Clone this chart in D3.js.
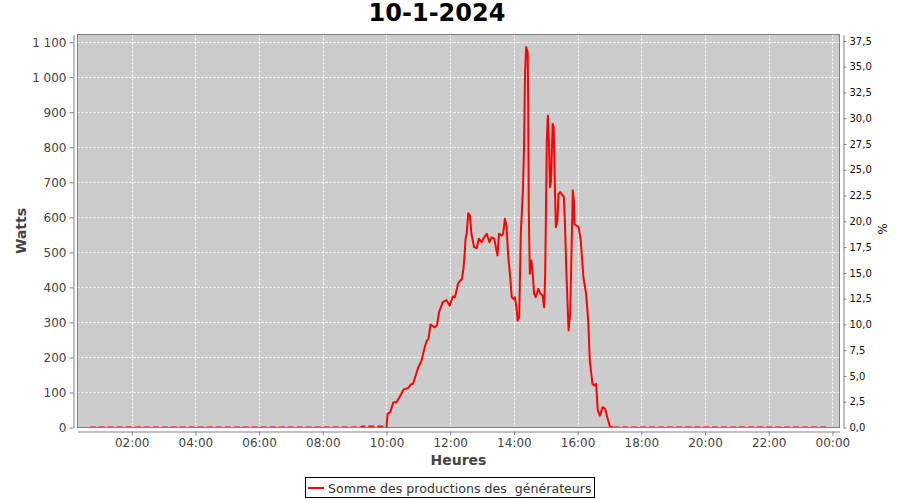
<!DOCTYPE html>
<html><head><meta charset="utf-8">
<script src="https://cdn.jsdelivr.net/npm/d3@7"></script>
<style>body{margin:0;background:#fff}svg{display:block}</style>
</head><body><svg id="c" width="900" height="500"></svg>
<script>
// ---- data ----
const title = "10-1-2024";
const seriesName = "Somme des productions des  générateurs";
const nightTimesAM = ["00:41","09:12","09:14","09:58"];
const nightWattsAM = [0,0,3,3];
const nightTimesPM = ["17:07","23:48"];
const nightWattsPM = [0,0];
const dayTimes = ["10:00","10:02","10:07","10:13","10:19","10:25","10:32","10:41","10:46","10:50","10:54","11:00","11:06","11:12","11:16","11:19","11:23","11:31","11:35","11:39","11:46","11:53","11:59","12:05","12:09","12:15","12:22","12:25","12:27","12:29","12:31","12:34","12:37","12:40","12:45","12:50","12:54","12:59","13:04","13:09","13:14","13:18","13:23","13:29","13:32","13:37","13:40","13:43","13:46","13:49","13:53","13:56","13:59","14:02","14:05","14:07","14:10","14:13","14:17","14:19","14:21","14:23","14:26","14:27","14:28","14:30","14:33","14:36","14:38","14:41","14:46","14:50","14:54","14:57","14:59","15:02","15:04","15:06","15:08","15:10","15:13","15:15","15:17","15:19","15:22","15:24","15:27","15:32","15:34","15:36","15:39","15:43","15:46","15:49","15:51","15:53","15:54","15:57","16:02","16:06","16:11","16:16","16:20","16:23","16:28","16:31","16:35","16:38","16:42","16:47","16:52","16:56","17:01","17:07"];
const dayWatts = [0,39,44,72,72,88,108,113,123,125,144,172,191,229,248,253,294,286,291,329,358,364,348,374,372,412,424,453,490,540,553,612,605,553,515,512,539,529,543,553,529,543,539,491,553,548,555,596,577,496,429,372,367,372,339,305,315,553,677,791,1010,1086,1071,914,620,439,477,429,382,372,396,382,377,343,439,819,891,819,686,705,867,857,705,572,591,667,672,662,660,591,439,277,325,534,677,648,581,577,572,534,429,382,305,191,125,120,125,49,34,58,53,29,2,0];
const xTickLabels = ["02:00","04:00","06:00","08:00","10:00","12:00","14:00","16:00","18:00","20:00","22:00","00:00"];
const xTickMinutes = [120,240,360,480,600,720,840,960,1080,1200,1320,1440];
const yTicks = [0,100,200,300,400,500,600,700,800,900,1000,1100];
const yRightTicks = [0,2.5,5,7.5,10,12.5,15,17.5,20,22.5,25,27.5,30,32.5,35,37.5];

// ---- layout ----
const L=77.5, R=839.5, T=34.5, B=427.5;
const FONT = "DejaVu Sans, sans-serif";
const svg = d3.select("#c");
const toMin = s => { const [h,m]=s.split(":").map(Number); return h*60+m; };

const x = d3.scaleLinear().domain([17.9,1453.4]).range([L,R]);
const y = d3.scaleLinear().domain([0,1122]).range([B,T]);
const yR = d3.scaleLinear().domain([0,38.12]).range([B,T]);

const loc = d3.formatLocale({decimal:",",thousands:" ",grouping:[3],currency:["","€"]});
const fmtW = loc.format(",d");
const fmtP = loc.format(".1f");

// title
svg.append("text").attr("x",437).attr("y",21).attr("text-anchor","middle")
  .attr("font-family",FONT).attr("font-weight","bold").attr("font-size",24).attr("fill","#000").text(title);

// plot background
svg.append("rect").attr("x",L).attr("y",T).attr("width",R-L).attr("height",B-T).attr("fill","#cccccc");

// grid
const grid = svg.append("g").attr("stroke","#ffffff").attr("stroke-width",1).attr("stroke-dasharray","2,2");
yTicks.forEach(v=>{ const yy=Math.round(y(v))+0.5; grid.append("line").attr("x1",L).attr("x2",R).attr("y1",yy).attr("y2",yy);});
xTickMinutes.forEach(v=>{ const xx=Math.round(x(v))+0.5; grid.append("line").attr("x1",xx).attr("x2",xx).attr("y1",T).attr("y2",B);});

// clip
svg.append("clipPath").attr("id","pc").append("rect").attr("x",L).attr("y",T).attr("width",R-L).attr("height",B-T);

const line = d3.line().x(d=>x(d[0])).y(d=>y(d[1]));
const mk = (ts,vs)=>ts.map((t,i)=>[toMin(t),vs[i]]);
const g = svg.append("g").attr("clip-path","url(#pc)");
[mk(nightTimesAM,nightWattsAM), mk(nightTimesPM,nightWattsPM)].forEach(d=>{
  g.append("path").attr("d",line(d)).attr("fill","none").attr("stroke","#ff0000").attr("stroke-width",2).attr("stroke-dasharray","6,3");
});
g.append("path").attr("d",line(mk(dayTimes,dayWatts))).attr("fill","none").attr("stroke","#ff0000").attr("stroke-width",2).attr("stroke-linejoin","round");

// plot outline
svg.append("rect").attr("x",L).attr("y",T).attr("width",R-L).attr("height",B-T).attr("fill","none").attr("stroke","#808080");

// axes
function style(ax, color, size){
  ax.select(".domain").attr("stroke","#808080");
  ax.selectAll(".tick line").attr("stroke","#808080");
  ax.selectAll(".tick text").attr("fill",color).attr("font-family",FONT).attr("font-size",size);
}
const axL = svg.append("g").attr("transform","translate(73.5,0)")
  .call(d3.axisLeft(y).tickValues(yTicks).tickFormat(fmtW).tickSize(4).tickSizeOuter(0).tickPadding(3));
style(axL,"#444",12);
const axB = svg.append("g").attr("transform","translate(0,431.5)")
  .call(d3.axisBottom(x).tickValues(xTickMinutes).tickFormat((d,i)=>xTickLabels[i]).tickSize(4).tickSizeOuter(0).tickPadding(3));
style(axB,"#444",12);
const axR = svg.append("g").attr("transform","translate(843.5,0)")
  .call(d3.axisRight(yR).tickValues(yRightTicks).tickFormat(fmtP).tickSize(3).tickSizeOuter(0).tickPadding(3));
style(axR,"#111",10);

// axis labels
svg.append("text").attr("transform","translate(26,231) rotate(-90)").attr("text-anchor","middle")
  .attr("font-family",FONT).attr("font-weight","bold").attr("font-size",14).attr("fill","#444").text("Watts");
svg.append("text").attr("x",458.5).attr("y",465).attr("text-anchor","middle")
  .attr("font-family",FONT).attr("font-weight","bold").attr("font-size",14).attr("fill","#444").text("Heures");
svg.append("text").attr("transform","translate(878,229) rotate(90)").attr("text-anchor","middle")
  .attr("font-family",FONT).attr("font-size",12).attr("fill","#111").text("%");

// legend
const lg = svg.append("g");
lg.append("rect").attr("x",305.5).attr("y",477.5).attr("width",289).attr("height",20).attr("fill","#fff").attr("stroke","#000");
lg.append("line").attr("x1",308).attr("x2",324).attr("y1",488).attr("y2",488).attr("stroke","#ff0000").attr("stroke-width",2);
lg.append("rect").attr("x",315).attr("y",487).attr("width",2).attr("height",2).attr("fill","#ff0000");
lg.append("text").attr("x",328).attr("y",492.5).attr("font-family",FONT).attr("font-size",12.6)
  .attr("fill","#333").style("white-space","pre").text(seriesName);
</script></body></html>
